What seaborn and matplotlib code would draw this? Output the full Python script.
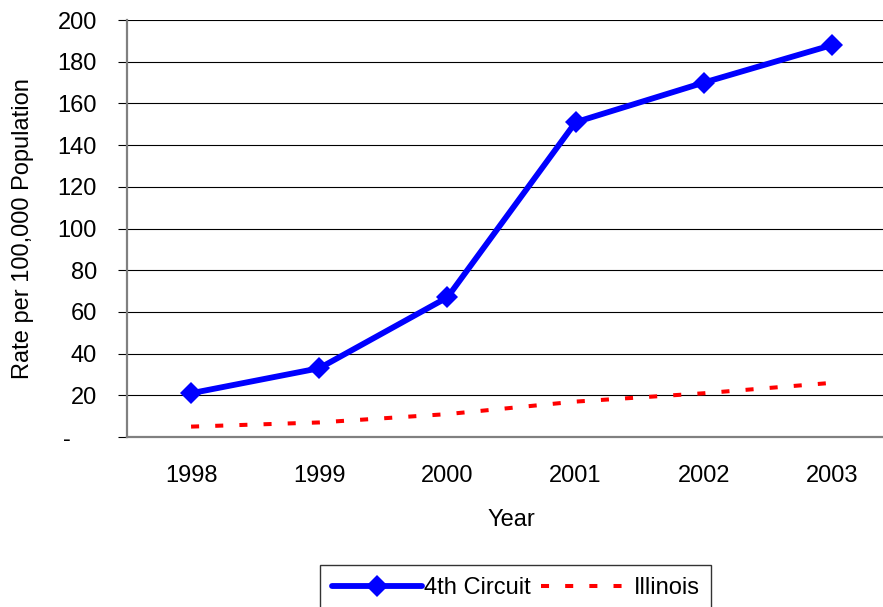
import matplotlib
matplotlib.use('Agg')
import matplotlib.pyplot as plt
import seaborn as sns
import pandas as pd
import numpy as np

years = ['1998', '1999', '2000', '2001', '2002', '2003']
circuit4 = [21, 33, 67, 151, 170, 188]
illinois = [5, 7, 11, 17, 21, 26]

sns.set_style('white')
plt.rcParams['font.family'] = ['Liberation Sans', 'DejaVu Sans']
plt.rcParams['text.color'] = 'black'
plt.rcParams['axes.labelcolor'] = 'black'
plt.rcParams['xtick.color'] = 'black'
plt.rcParams['ytick.color'] = 'black'

df = pd.DataFrame({'Year': years, '4th Circuit': circuit4, 'Illinois': illinois})

fig = plt.figure(figsize=(8.83, 6.07), dpi=100)
# the plot area runs a little past the right edge of the picture
ax = fig.add_axes([0.1438, 0.28, 0.871, 0.687])

sns.lineplot(data=df, x='Year', y='4th Circuit', ax=ax, color='#0000ff', lw=4.2,
             marker='D', markersize=11, markeredgewidth=0, label='4th Circuit', sort=False)
sns.lineplot(data=df, x='Year', y='Illinois', ax=ax, color='#ff0000', lw=2.9,
             label='Illinois', sort=False)
ax.lines[1].set_dashes((2.0, 4.0))
ax.lines[1].set_dash_capstyle('butt')

ax.set_ylim(0, 200)
ax.set_xlim(-0.5, 5.5)
ax.set_yticks(np.arange(0, 201, 20))
ax.set_yticklabels(['-    '] + [str(v) for v in range(20, 201, 20)])
ax.yaxis.grid(True, color='black', lw=0.8)
ax.set_axisbelow(True)

ax.set_xticks(range(len(years)))
ax.set_xticks(np.arange(-0.5, 6, 1), minor=True)
ax.tick_params(axis='x', which='major', length=0, pad=20, labelsize=17, labelcolor='black')
ax.tick_params(axis='x', which='minor', length=8, width=1.2, color='#808080', direction='out')
ax.tick_params(axis='y', length=6.5, width=0.8, color='black', labelsize=17, pad=15,
               left=True, labelcolor='black')

for s in ['top', 'right']:
    ax.spines[s].set_visible(False)
for s in ['left', 'bottom']:
    ax.spines[s].set_color('#808080')
    ax.spines[s].set_linewidth(1.6)

ax.set_xlabel('Year', fontsize=17, labelpad=16)
ax.set_ylabel('Rate per 100,000 Population', fontsize=17, labelpad=17)

ax.get_legend().remove()
h, l = ax.get_legend_handles_labels()
leg = fig.legend(h, l, loc='upper center', bbox_to_anchor=(0.584, 0.069), ncol=2,
                 fontsize=17, frameon=True, fancybox=False, edgecolor='black',
                 handlelength=3.8, columnspacing=0.45, handletextpad=0.1, borderpad=0.5,
                 borderaxespad=0)
leg.get_frame().set_linewidth(1.0)

fig.savefig('out.png', dpi=100)
